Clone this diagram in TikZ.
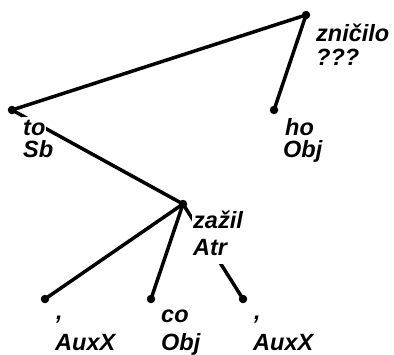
\documentclass[tikz,border=0pt]{standalone}
\usepackage{fontspec}
\setmainfont{Liberation Sans}
\begin{document}
\begin{tikzpicture}[x=1pt,y=-1pt,
  dot/.style={circle,fill=black,inner sep=0pt,minimum size=8.5pt},
  edge/.style={line width=3.5pt},
  lab/.style={anchor=base west,fill=white,inner xsep=1pt,inner ysep=0pt,text height=18pt,text depth=9pt,
    font=\fontsize{23.5}{26}\selectfont\bfseries\itshape}]
\useasboundingbox (0,0) rectangle (394,354);
\node[dot] (zn) at (306,15) {};
\node[dot] (to) at (12,110) {};
\node[dot] (ho) at (274,110) {};
\node[dot] (za) at (183,204) {};
\node[dot] (c1) at (45,299) {};
\node[dot] (co) at (151,299) {};
\node[dot] (c2) at (243,299) {};
\draw[edge] (zn.center) -- (to.center);
\draw[edge] (zn.center) -- (ho.center);
\draw[edge] (to.center) -- (za.center);
\draw[edge] (za.center) -- (c1.center);
\draw[edge] (za.center) -- (co.center);
\draw[edge] (za.center) -- (c2.center);
\node[lab] (znA) at (315,41) {zničilo};
\node[lab] (znB) at (315,65) {???};
\node[lab] (toA) at (22,135) {to};
\node[lab] (toB) at (22,157) {Sb};
\node[lab] (hoA) at (284,135) {ho};
\node[lab] (hoB) at (282,157) {Obj};
\node[lab] (zaA) at (192,228) {zažil};
\node[lab] (zaB) at (192,255) {Atr};
\node[lab] (c1A) at (55,319) {,};
\node[lab] (c1B) at (54,350) {AuxX};
\node[lab] (coA) at (160,322) {co};
\node[lab] (coB) at (160,350) {Obj};
\node[lab] (c2A) at (253,319) {,};
\node[lab] (c2B) at (252,350) {AuxX};
\end{tikzpicture}
\end{document}
